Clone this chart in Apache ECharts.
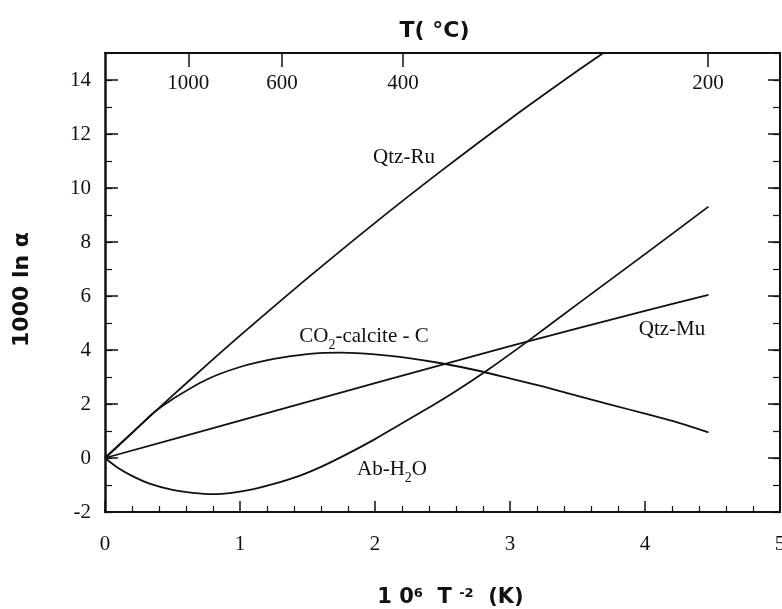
<!DOCTYPE html>
<html>
<head>
<meta charset="utf-8">
<script src="https://cdn.jsdelivr.net/npm/echarts@6/dist/echarts.min.js"></script>
<style>
  html, body { margin: 0; padding: 0; background: #fff; }
  #chart { width: 782px; height: 609px; }
</style>
</head>
<body>
<div id="chart"></div>
<script>
// 分馏曲线数据 (x = 10^6 T^-2, y = 1000 ln α)
const qtzRuX = [0, 0.25, 0.5, 0.75, 1, 1.5, 2, 2.5, 3, 3.5, 3.7];
const qtzRuY = [0, 1.16, 2.31, 3.43, 4.53, 6.66, 8.71, 10.67, 12.55, 14.34, 15.03];

const co2CalX = [0, 0.25, 0.37, 0.5, 0.75, 1, 1.25, 1.5, 1.75, 2, 2.25, 2.5, 2.75, 3, 3.25, 3.5, 3.75, 4, 4.25, 4.47];
const co2CalY = [0, 1.16, 1.72, 2.18, 2.9, 3.37, 3.67, 3.85, 3.9, 3.84, 3.7, 3.5, 3.25, 2.95, 2.64, 2.3, 1.97, 1.64, 1.3, 0.95];

const qtzMuX = [0, 1, 2, 3, 4, 4.47];
const qtzMuY = [0, 1.38, 2.77, 4.14, 5.45, 6.04];

const abH2oX = [0, 0.1, 0.2, 0.33, 0.5, 0.65, 0.8, 0.95, 1.1, 1.25, 1.44, 1.6, 1.81, 2, 2.185, 2.4, 2.56, 2.84, 3.13, 3.5, 4, 4.47];
const abH2oY = [0, -0.38, -0.66, -0.95, -1.18, -1.29, -1.34, -1.28, -1.15, -0.96, -0.66, -0.33, 0.19, 0.7, 1.24, 1.87, 2.35, 3.28, 4.32, 5.7, 7.55, 9.31];

// 上方温度刻度 (°C)
const tempTicks = [1000, 600, 400, 200];
const xTicks = [0, 1, 2, 3, 4, 5];
const yTicks = [-2, 0, 2, 4, 6, 8, 10, 12, 14];

// 温度换算到 10^6/T^2 (T 为开尔文)
const tempPos = tempTicks.map(t => 1e6 / Math.pow(t + 273.15, 2));

function pairs(xs, ys) {
    return xs.map((x, i) => [x, ys[i]]);
}

(function () {
    let myChart = echarts.init(document.getElementById('chart'));

    const serif = '"Liberation Serif", "Times New Roman", serif';
    const sans = '"DejaVu Sans", Arial, sans-serif';
    const ink = '#111';

    // 公共的线条样式
    let lineSeries = function (name, data) {
        return {
            name: name,
            type: 'line',
            data: data,
            symbol: 'none',
            smooth: 0.3,
            clip: true,
            xAxisIndex: 0,
            yAxisIndex: 0,
            lineStyle: { color: ink, width: 1.8 },
            silent: true
        };
    };

    let yBase = {
        type: 'value',
        min: yTicks[0],
        max: 15,
        splitLine: { show: false },
        axisLabel: { show: false }
    };

    let subRich = {
        n: { fontFamily: serif, fontSize: 21, lineHeight: 27, verticalAlign: 'top', fill: ink, color: ink },
        s: { fontFamily: serif, fontSize: 14, lineHeight: 27, verticalAlign: 'bottom', fill: ink, color: ink }
    };

    let option = {
        backgroundColor: '#fff',
        animation: false,
        grid: {
            left: 105,
            right: 2,
            top: 53,
            bottom: 97,
            containLabel: false,
            outerBoundsMode: 'none'
        },
        xAxis: [
            {
                type: 'value',
                position: 'bottom',
                min: xTicks[0],
                max: xTicks[xTicks.length - 1],
                interval: 1,
                name: '1 0{sup|6}  T {sup|-2}  (K)',
                nameLocation: 'middle',
                nameGap: 75,
                nameTextStyle: {
                    fontFamily: sans, fontWeight: 'bold', fontSize: 21, color: ink,
                    padding: [0, 0, 0, 16],
                    rich: {
                        sup: { fontFamily: sans, fontWeight: 'bold', fontSize: 13, verticalAlign: 'top', color: ink }
                    }
                },
                axisLine: { onZero: false, lineStyle: { color: ink, width: 2 } },
                axisTick: { inside: true, length: 11, lineStyle: { color: ink, width: 1.5 } },
                minorTick: { show: true, splitNumber: 5, length: 6, lineStyle: { color: ink, width: 1.2 } },
                axisLabel: { margin: 22, fontFamily: serif, fontSize: 21, color: ink },
                splitLine: { show: false }
            },
            {
                type: 'value',
                position: 'top',
                min: xTicks[0],
                max: xTicks[xTicks.length - 1],
                name: 'T( °C)',
                nameLocation: 'middle',
                nameGap: 11,
                nameTextStyle: { fontFamily: sans, fontWeight: 'bold', fontSize: 22, color: ink, padding: [0, 16, 0, 0] },
                axisLine: { onZero: false, lineStyle: { color: ink, width: 2 } },
                axisTick: { inside: true, length: 14, customValues: tempPos, lineStyle: { color: ink, width: 1.5 } },
                axisLabel: {
                    inside: true,
                    margin: 20,
                    customValues: tempPos,
                    fontFamily: serif, fontSize: 21, color: ink,
                    formatter: function (v) {
                        let best = 0;
                        tempPos.forEach((p, i) => {
                            if (Math.abs(p - v) < Math.abs(tempPos[best] - v)) best = i;
                        });
                        return String(tempTicks[best]);
                    }
                },
                splitLine: { show: false }
            }
        ],
        yAxis: [
            Object.assign({}, yBase, {
                position: 'left',
                interval: 2,
                name: '1000 ln α',
                nameLocation: 'middle',
                nameGap: 72,
                nameTextStyle: { fontFamily: sans, fontWeight: 'bold', fontSize: 22, color: ink, padding: [0, 0, 0, -14] },
                axisLine: { onZero: false, lineStyle: { color: ink, width: 2.5 } },
                axisTick: { inside: true, length: 13, lineStyle: { color: ink, width: 1.5 } },
                axisLabel: { show: true, showMaxLabel: false, margin: 14, fontFamily: serif, fontSize: 21, color: ink }
            }),
            Object.assign({}, yBase, {
                position: 'left',
                interval: 1,
                axisLine: { show: false, onZero: false },
                axisTick: { inside: true, length: 7, lineStyle: { color: ink, width: 1.2 } }
            }),
            Object.assign({}, yBase, {
                position: 'right',
                interval: 2,
                axisLine: { onZero: false, lineStyle: { color: ink, width: 2 } },
                axisTick: { inside: true, length: 12, lineStyle: { color: ink, width: 1.5 } }
            }),
            Object.assign({}, yBase, {
                position: 'right',
                interval: 1,
                axisLine: { show: false, onZero: false },
                axisTick: { inside: true, length: 7, lineStyle: { color: ink, width: 1.2 } }
            })
        ],
        series: [
            lineSeries('Qtz-Ru', pairs(qtzRuX, qtzRuY)),
            lineSeries('CO2-calcite - C', pairs(co2CalX, co2CalY)),
            lineSeries('Qtz-Mu', pairs(qtzMuX, qtzMuY)),
            lineSeries('Ab-H2O', pairs(abH2oX, abH2oY))
        ],
        // 曲线旁的文字标注
        graphic: [
            { type: 'text', x: 404, y: 157, style: { text: 'Qtz-Ru', font: '21px ' + serif, fill: ink, align: 'center', verticalAlign: 'middle' } },
            { type: 'text', x: 672, y: 329, style: { text: 'Qtz-Mu', font: '21px ' + serif, fill: ink, align: 'center', verticalAlign: 'middle' } },
            {
                type: 'text', x: 364, y: 339,
                style: { text: '{n|CO}{s|2}{n|-calcite - C}', align: 'center', verticalAlign: 'middle', fill: ink, rich: subRich }
            },
            {
                type: 'text', x: 392, y: 472,
                style: { text: '{n|Ab-H}{s|2}{n|O}', align: 'center', verticalAlign: 'middle', fill: ink, rich: subRich }
            }
        ]
    };

    myChart.setOption(option);

    window.addEventListener('resize', function () {
        myChart.resize();
    });
})();
</script>
</body>
</html>
